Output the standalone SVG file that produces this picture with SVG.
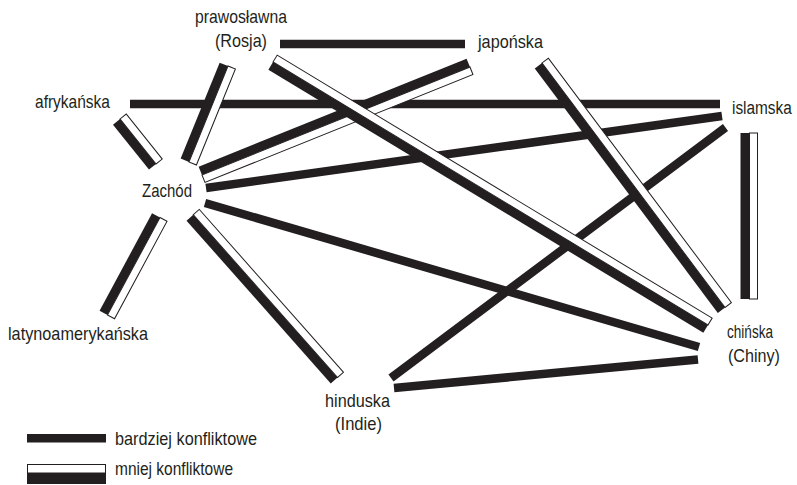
<svg xmlns="http://www.w3.org/2000/svg" width="797" height="485" viewBox="0 0 797 485">
<style>
text{font-family:"Liberation Sans Narrow","Liberation Sans",Arial,sans-serif;font-size:19px;fill:#231f20}
.solid{stroke:#231f20;stroke-width:8.5;fill:none}
.blk{fill:#231f20}
.wht{fill:#fff;stroke:#231f20;stroke-width:1}
</style>
<rect width="797" height="485" fill="#fff"/>
<g id="connectors">
  <line class="solid" x1="280" y1="44" x2="465" y2="44"/>
  <line class="solid" x1="130" y1="104" x2="720" y2="104"/>
  <line class="solid" x1="206" y1="188" x2="722" y2="116"/>
  <line class="solid" x1="205" y1="203" x2="699" y2="347"/>
  <line class="solid" x1="725.5" y1="127.5" x2="391" y2="378"/>
  <line class="solid" x1="394" y1="388" x2="698" y2="359.5"/>
  <g transform="translate(189,162) rotate(-67.89)"><rect class="blk" x="0" y="-9" width="103.6" height="9"/><rect class="wht" x="0" y="0" width="103.6" height="8"/></g>
  <g transform="translate(156,164) rotate(-128.66)"><rect class="blk" x="0" y="-9" width="57.6" height="9"/><rect class="wht" x="0" y="0" width="57.6" height="8"/></g>
  <g transform="translate(202,175) rotate(-21.95)"><rect class="blk" x="0" y="-9" width="288.9" height="9"/><rect class="wht" x="0" y="0" width="288.9" height="8"/></g>
  <g transform="translate(708,325) rotate(-148.84)"><rect class="blk" x="0" y="-9" width="508.3" height="9"/><rect class="wht" x="0" y="0" width="508.3" height="8"/></g>
  <g transform="translate(725,307.5) rotate(-126.82)"><rect class="blk" x="0" y="-9" width="305.4" height="9"/><rect class="wht" x="0" y="0" width="305.4" height="8"/></g>
  <g transform="translate(749.5,299) rotate(-90)"><rect class="blk" x="0" y="-9" width="166" height="9"/><rect class="wht" x="0" y="0" width="166" height="8"/></g>
  <g transform="translate(107.5,315) rotate(-61.7)"><rect class="blk" x="0" y="-9" width="110.7" height="9"/><rect class="wht" x="0" y="0" width="110.7" height="8"/></g>
  <g transform="translate(337.5,377.5) rotate(-131.54)"><rect class="blk" x="0" y="-9" width="217.5" height="9"/><rect class="wht" x="0" y="0" width="217.5" height="8"/></g>
</g>
<g id="node-prawoslawna"><text x="241" y="23" text-anchor="middle" textLength="92" lengthAdjust="spacingAndGlyphs">prawosławna</text><text x="241" y="47" text-anchor="middle" textLength="52" lengthAdjust="spacingAndGlyphs">(Rosja)</text></g>
<g id="node-japonska"><text x="478" y="48" textLength="65" lengthAdjust="spacingAndGlyphs">japońska</text></g>
<g id="node-afrykanska"><text x="35" y="108" textLength="75" lengthAdjust="spacingAndGlyphs">afrykańska</text></g>
<g id="node-islamska"><text transform="translate(732,114) scale(0.81,1)" x="0" y="0">islamska</text></g>
<g id="node-zachod"><text x="142" y="197" textLength="50" lengthAdjust="spacingAndGlyphs">Zachód</text></g>
<g id="node-latynoamerykanska"><text x="8" y="340" textLength="140" lengthAdjust="spacingAndGlyphs">latynoamerykańska</text></g>
<g id="node-chinska"><text x="727" y="338" textLength="46" lengthAdjust="spacingAndGlyphs">chińska</text><text x="728" y="362" textLength="52" lengthAdjust="spacingAndGlyphs">(Chiny)</text></g>
<g id="node-hinduska"><text x="325" y="407" textLength="65" lengthAdjust="spacingAndGlyphs">hinduska</text><text x="335" y="430" textLength="47" lengthAdjust="spacingAndGlyphs">(Indie)</text></g>
<g id="legend">
  <rect class="blk" x="27" y="434" width="79" height="8.5"/>
  <text x="115" y="445" textLength="142" lengthAdjust="spacingAndGlyphs">bardziej konfliktowe</text>
  <rect class="wht" x="27.5" y="464.5" width="78" height="8.5"/>
  <rect class="blk" x="27" y="473" width="79" height="11"/>
  <text x="115" y="475" textLength="118" lengthAdjust="spacingAndGlyphs">mniej konfliktowe</text>
</g>
</svg>
